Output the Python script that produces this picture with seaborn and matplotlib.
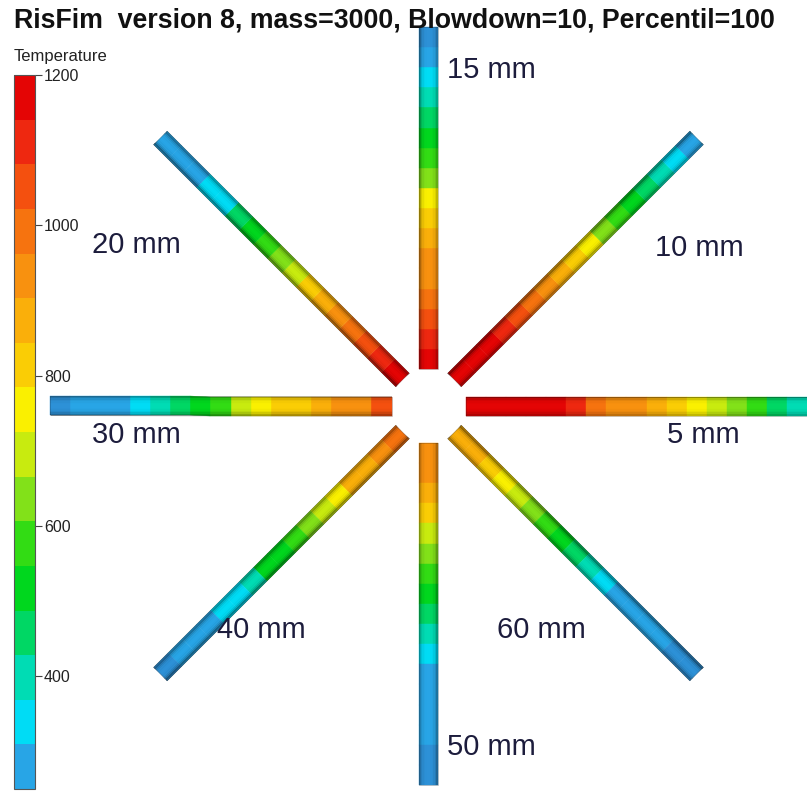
import numpy as np
import matplotlib
matplotlib.use("Agg")
import matplotlib.pyplot as plt
import matplotlib.cm as cm
from matplotlib.collections import PolyCollection
from matplotlib.colors import ListedColormap, BoundaryNorm
import seaborn as sns

# ---------------------------------------------------------------- data
TITLE = "RisFim  version 8, mass=3000, Blowdown=10, Percentil=100"
COLORBAR_LABEL = "Temperature"

rod_labels = ["5 mm", "10 mm", "15 mm", "20 mm", "30 mm", "40 mm", "50 mm", "60 mm"]
rod_angles = [0, 45, 90, 135, 180, 225, 270, 315]   # degrees, counter-clockwise

# temperature of each cell along a rod, from the hub outwards
temp_5mm  = [1180, 1175, 1170, 1165, 1160, 1090, 1020, 960, 930, 870, 820, 780, 700, 620, 550, 480, 400]
temp_10mm = [1180, 1170, 1160, 1100, 1040, 980, 920, 860, 800, 740, 660, 580, 510, 450, 400, 340, 300]
temp_15mm = [1170, 1130, 1080, 1000, 950, 910, 870, 800, 740, 640, 570, 500, 440, 380, 330, 280, 240]
temp_20mm = [1150, 1100, 1040, 980, 920, 860, 800, 720, 630, 560, 500, 430, 360, 320, 290, 270, 255]
temp_30mm = [1060, 960, 930, 880, 840, 800, 750, 680, 580, 520, 450, 380, 330, 300, 280, 260, 245]
temp_40mm = [980, 950, 900, 850, 780, 710, 640, 580, 540, 490, 400, 350, 310, 290, 270, 255, 245]
temp_50mm = [960, 930, 870, 800, 720, 620, 560, 510, 450, 380, 330, 300, 280, 260, 250, 240, 240]
temp_60mm = [890, 860, 810, 760, 690, 620, 570, 520, 450, 370, 330, 300, 280, 260, 250, 245, 240]
rod_temps = [temp_5mm, temp_10mm, temp_15mm, temp_20mm,
             temp_30mm, temp_40mm, temp_50mm, temp_60mm]

t_min, t_max, n_levels = 250, 1200, 16
colorbar_ticks = [400, 600, 800, 1000, 1200]

# one colour per temperature band, coldest first
band_colors = ["#28a5e6", "#00dcf5", "#00dcb4", "#00d764", "#00d71e", "#32dc14",
               "#82e119", "#c8eb0f", "#faf000", "#facd05", "#faaf0a", "#f8910f",
               "#f6730f", "#f4500f", "#ee2810", "#e40505"]
under_color = "#2d91d7"

# ---------------------------------------------------------------- style
sns.set_theme(style="white")
plt.rcParams["font.family"] = ["Liberation Sans", "DejaVu Sans"]

W, H = 807, 793
fig = plt.figure(figsize=(W / 100, H / 100), dpi=100)
fig.patch.set_facecolor("white")

ax = fig.add_axes([0, 0, 1, 1])
ax.set_xlim(0, W)
ax.set_ylim(H, 0)
ax.axis("off")

cmap = ListedColormap(sns.color_palette(band_colors))
cmap.set_under(under_color)
norm = BoundaryNorm(np.linspace(t_min, t_max, n_levels + 1), ncolors=n_levels)

# ---------------------------------------------------------------- rods
hub = np.array([428.5, 406.0])
r_in, rod_len, rod_w = 37.0, 342.0, 19.0


def strip(u, n, s0, s1, o0, o1):
    return [hub + u * s0 + n * o0, hub + u * s1 + n * o0,
            hub + u * s1 + n * o1, hub + u * s0 + n * o1]


# thin slices across the rod width, darker towards the rims
n_slices = 12
slice_edges = np.linspace(-rod_w / 2, rod_w / 2, n_slices + 1)
slice_mid = 0.5 * (slice_edges[:-1] + slice_edges[1:]) / (rod_w / 2)
slice_alpha = 0.30 * np.abs(slice_mid) ** 3
slice_alpha[slice_mid < 0] *= 1.3

for angle, temps in zip(rod_angles, rod_temps):
    a = np.deg2rad(angle)
    u = np.array([np.cos(a), -np.sin(a)])
    n = np.array([np.sin(a), np.cos(a)])
    edges = r_in + np.linspace(0, rod_len, len(temps) + 1)
    cells = [strip(u, n, edges[i], edges[i + 1], -rod_w / 2, rod_w / 2)
             for i in range(len(temps))]
    pc = PolyCollection(cells, array=np.asarray(temps, float), cmap=cmap,
                        norm=norm, edgecolors="face", linewidths=0.3)
    ax.add_collection(pc)
    shade = [strip(u, n, edges[0], edges[-1], slice_edges[k], slice_edges[k + 1])
             for k in range(n_slices)]
    ax.add_collection(PolyCollection(
        shade, facecolors=[(0, 0, 0, al) for al in slice_alpha],
        edgecolors="none", antialiased=False))
    ax.add_collection(PolyCollection(
        [strip(u, n, edges[0], edges[-1], -rod_w / 2, rod_w / 2)],
        facecolors="none", edgecolors=(0.1, 0.1, 0.1, 0.25), linewidths=0.6))

# ---------------------------------------------------------------- labels
label_pos = {"15 mm": (447, 70), "10 mm": (655, 248), "20 mm": (92, 245),
             "5 mm": (667, 435), "30 mm": (92, 435), "40 mm": (217, 630),
             "60 mm": (497, 630), "50 mm": (447, 747)}
for lab in rod_labels:
    x, y = label_pos[lab]
    ax.text(x, y, lab, fontsize=21, color="#1c1c3c", ha="left", va="center")

fig.text(14 / W, 1 - 20 / H, TITLE, fontsize=19.3, fontweight="bold",
         color="#111111", ha="left", va="center")

# ---------------------------------------------------------------- colour bar
cax = fig.add_axes([14 / W, (H - 789) / H, 21 / W, (789 - 75) / H])
sm = cm.ScalarMappable(norm=norm, cmap=cmap)
cb = fig.colorbar(sm, cax=cax, ticks=colorbar_ticks)
cb.minorticks_off()
cb.outline.set_edgecolor("#555555")
cb.outline.set_linewidth(0.8)
cax.tick_params(axis="y", which="major", length=5, width=0.8, color="#444444",
                labelsize=11.5, labelcolor="#222222", pad=1.5)
cax.set_yticklabels([str(t) for t in colorbar_ticks])
fig.text(14 / W, 1 - 56 / H, COLORBAR_LABEL, fontsize=12, color="#222222",
         ha="left", va="center")

fig.savefig("out.png", dpi=100, facecolor="white")
